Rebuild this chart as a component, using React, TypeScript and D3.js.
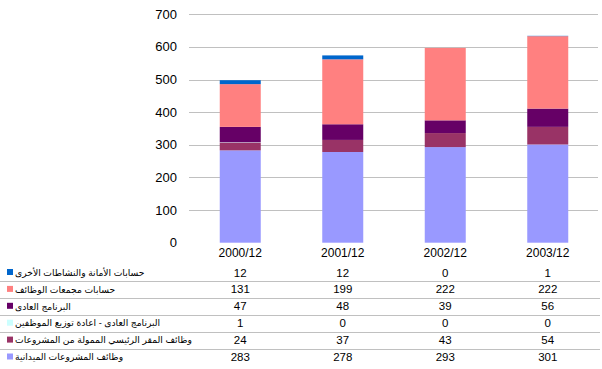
import React from 'react';
import * as d3 from 'd3';

const categories = ['2000/12', '2001/12', '2002/12', '2003/12'];

// bottom of the stack first
const seriesNames = [
  'وظائف المشروعات الميدانية',
  'وظائف المقر الرئيسي الممولة من المشروعات',
  'البرنامج العادى - اعادة توزيع الموظفين',
  'البرنامج العادى',
  'حسابات مجمعات الوظائف',
  'حسابات الأمانة والنشاطات الأخرى',
];
const fieldPosts = [283, 278, 293, 301];
const hqPosts = [24, 37, 43, 54];
const redeployment = [1, 0, 0, 0];
const regularProgramme = [47, 48, 39, 56];
const postPools = [131, 199, 222, 222];
const trustAccounts = [12, 12, 0, 1];
const seriesValues = [fieldPosts, hqPosts, redeployment, regularProgramme, postPools, trustAccounts];
const colors = ['#9999FF', '#993366', '#CCFFFF', '#660066', '#FF8080', '#0066CC'];
const yTicks = [0, 100, 200, 300, 400, 500, 600, 700];

const width = 602;
const height = 369;
const font = '"Liberation Sans", "DejaVu Sans", Arial, sans-serif';

const App = () => {
  const x = d3.scaleBand().domain(categories).range([189, 599]).paddingInner(0.6).paddingOuter(0.3);
  const y = d3.scaleLinear().domain([0, 700]).range([242.7, 14.3]);

  const rows = categories.map((c, i) => {
    const r: any = { cat: c };
    seriesNames.forEach((n, k) => (r[n] = seriesValues[k][i]));
    return r;
  });
  const stacked = d3.stack().keys(seriesNames)(rows);

  // table rows, top row is the last series
  const tableOrder = seriesNames.map((_, k) => seriesNames.length - 1 - k);
  const rowY = d3.scaleLinear().domain([0, 1]).range([272.5, 289.4]);

  return (
    <svg width={width} height={height} style={{ position: 'absolute', left: 0, top: 0, fontFamily: font }}>
      <rect width={width} height={height} fill="#fff" />
      {yTicks.map((t) => (
        <g key={t}>
          {t > 0 && <line x1={189} x2={598} y1={Math.round(y(t)) + 0.5} y2={Math.round(y(t)) + 0.5} stroke="#C0C0C0" />}
          <text x={177} y={y(t)} dy="0.35em" textAnchor="end" fontSize={13} fill="#000">{t}</text>
        </g>
      ))}
      {stacked.map((s, k) => (
        <g key={k} fill={colors[k]}>
          {s.map((d, i) =>
            d[1] - d[0] > 0 ? (
              <rect key={i} x={x(categories[i])} width={x.bandwidth()} y={y(d[1])} height={y(d[0]) - y(d[1])} />
            ) : null
          )}
        </g>
      ))}
      {categories.map((c) => (
        <text key={c} x={(x(c) as number) + x.bandwidth() / 2} y={253} dy="0.35em" textAnchor="middle" fontSize={12}>{c}</text>
      ))}
      {tableOrder.map((k, r) => (
        <g key={k}>
          <rect x={7} y={rowY(r) - 3.5} width={6} height={6} fill={colors[k]} />
          <text x={15} y={rowY(r)} dy="0.35em" textAnchor="start" fontSize={9.2}>{seriesNames[k]}</text>
          {categories.map((c, i) => (
            <text key={c} x={(x(c) as number) + x.bandwidth() / 2} y={rowY(r)} dy="0.35em" textAnchor="middle" fontSize={11.5}>
              {seriesValues[k][i]}
            </text>
          ))}
          {r < tableOrder.length - 1 && (
            <line x1={0} x2={600} y1={Math.round(rowY(r + 0.5)) + 0.5} y2={Math.round(rowY(r + 0.5)) + 0.5} stroke="#C0C0C0" />
          )}
        </g>
      ))}
    </svg>
  );
};

export default App;
